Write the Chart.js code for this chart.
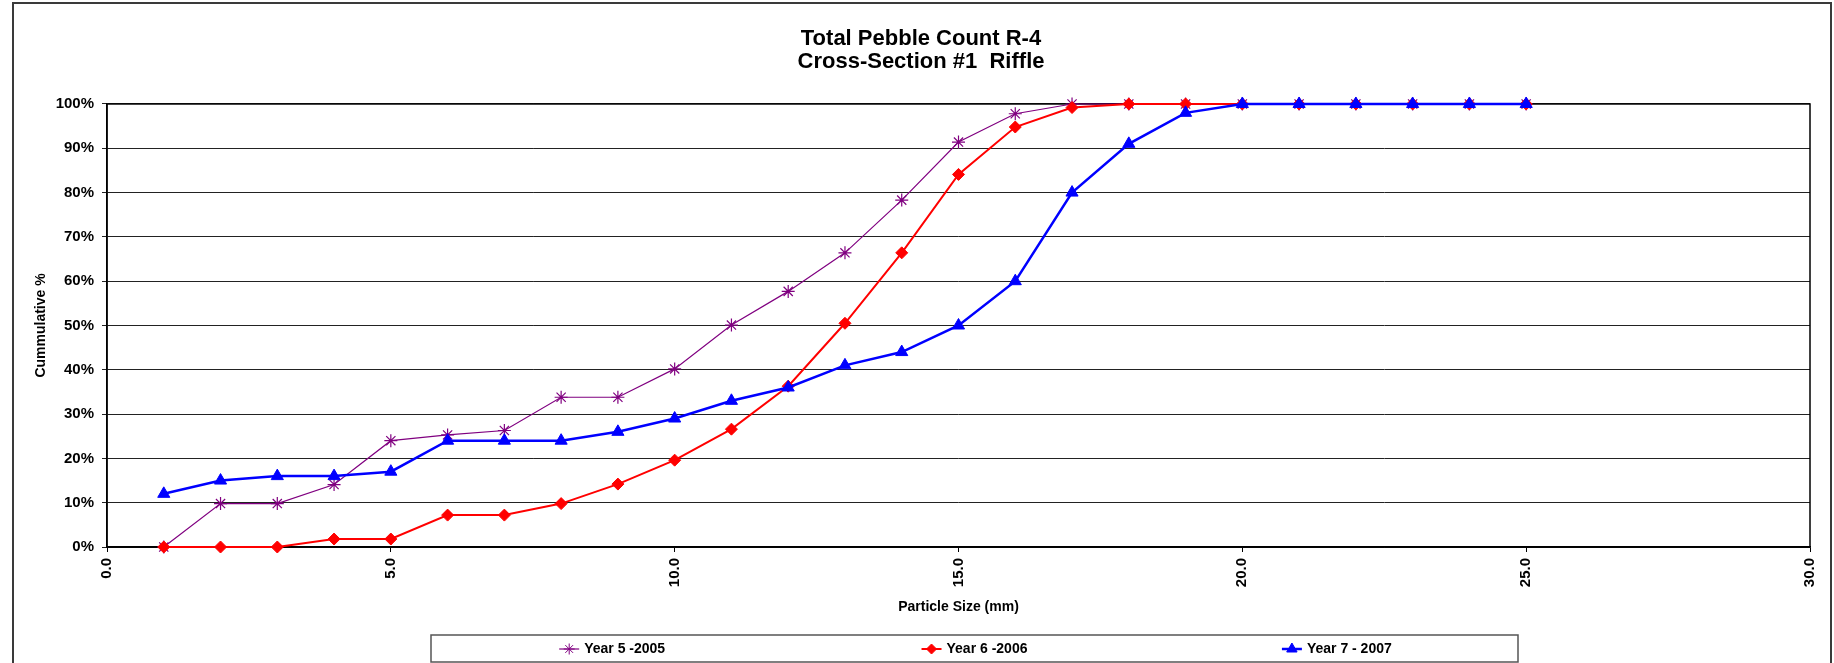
<!DOCTYPE html>
<html>
<head>
<meta charset="utf-8">
<script src="https://cdn.jsdelivr.net/npm/chart.js@4/dist/chart.umd.min.js"></script>
<style>
  body { margin: 0; background: #fff; }
  canvas { display: block; }
</style>
</head>
<body>
<canvas id="pebbleChart" width="1834" height="663"></canvas>
<script>
// particle sizes (mm) and cumulative % per year
const sizes = [1, 2, 3, 4, 5, 6, 7, 8, 9, 10, 11, 12, 13, 14, 15, 16, 17, 18, 19, 20, 21, 22, 23, 24, 25];
const year5 = [0, 9.8, 9.8, 14.1, 24.0, 25.3, 26.3, 33.8, 33.8, 40.2, 50.1, 57.7, 66.4, 78.3, 91.4, 97.8, 100, 100, 100, 100, 100, 100, 100, 100, 100];
const year6 = [0, 0, 0, 1.8, 1.8, 7.2, 7.2, 9.8, 14.2, 19.6, 26.6, 36.3, 50.5, 66.4, 84.1, 94.8, 99.2, 100, 100, 100, 100, 100, 100, 100, 100];
const year7 = [12, 15, 16, 16, 17, 24, 24, 24, 26, 29, 33, 36, 41, 44, 50, 60, 80, 91, 98, 100, 100, 100, 100, 100, 100];
const seriesNames = ['Year 5 -2005', 'Year 6 -2006', 'Year 7 - 2007'];
const xTicks = [0, 5, 10, 15, 20, 25, 30];

const toPoints = arr => arr.map((v, i) => ({x: sizes[i], y: v}));

Chart.defaults.font.family = "'Liberation Sans', Arial, sans-serif";
Chart.defaults.color = '#000';

// outer frame, plot border and the boxed legend
const framePlugin = {
    id: 'frame',
    beforeDraw(chart) {
        const ctx = chart.ctx;
        ctx.save();
        ctx.strokeStyle = '#3a3a3a';
        ctx.lineWidth = 2;
        ctx.strokeRect(13, 3, chart.width - 16, chart.height + 20);
        ctx.restore();
    },
    beforeDatasetsDraw(chart) {
        const {ctx, chartArea: a} = chart;
        ctx.save();
        ctx.strokeStyle = '#000';
        ctx.lineWidth = 1.5;
        ctx.strokeRect(a.left, a.top, a.right - a.left, a.bottom - a.top);
        ctx.restore();
    },
    afterDraw(chart) {
        const {ctx, chartArea: a} = chart;
        const boxL = a.left + 324, boxW = 1087, boxT = 635, boxH = 27;
        ctx.save();
        ctx.strokeStyle = '#555';
        ctx.lineWidth = 1.5;
        ctx.strokeRect(boxL, boxT, boxW, boxH);
        const slot = boxW / chart.data.datasets.length;
        const cy = boxT + boxH / 2 + 0.5;
        ctx.font = 'bold 14px ' + Chart.defaults.font.family;
        ctx.textBaseline = 'middle';
        ctx.textAlign = 'left';
        chart.data.datasets.forEach((ds, i) => {
            const tw = ctx.measureText(ds.label).width;
            const itemW = 25 + tw;
            const mx = boxL + slot * i + slot / 2 - itemW / 2 + 10;
            ctx.strokeStyle = ds.borderColor;
            ctx.fillStyle = ds.backgroundColor;
            ctx.lineWidth = ds.borderWidth;
            ctx.beginPath();
            ctx.moveTo(mx - 10, cy);
            ctx.lineTo(mx + 10, cy);
            ctx.stroke();
            ctx.lineWidth = 1;
            Chart.helpers.drawPoint(ctx, {
                pointStyle: ds.pointStyle,
                radius: ds.pointRadius - 1,
                rotation: 0,
                borderWidth: 1
            }, mx, cy);
            ctx.fillStyle = '#000';
            ctx.fillText(ds.label, mx + 15, cy);
        });
        ctx.restore();
    }
};

const ctx = document.getElementById('pebbleChart').getContext('2d');
new Chart(ctx, {
    type: 'line',
    data: {
        datasets: [
            {
                label: seriesNames[0],
                data: toPoints(year5),
                borderColor: '#800080',
                backgroundColor: '#800080',
                borderWidth: 1.2,
                pointStyle: 'star',
                pointRadius: 6.5,
                pointBorderWidth: 1.2,
                order: 3,
                clip: false
            },
            {
                label: seriesNames[1],
                data: toPoints(year6),
                borderColor: '#ff0000',
                backgroundColor: '#ff0000',
                borderWidth: 2,
                pointStyle: 'rectRot',
                pointRadius: 6,
                pointBorderWidth: 1,
                order: 2,
                clip: false
            },
            {
                label: seriesNames[2],
                data: toPoints(year7),
                borderColor: '#0000ff',
                backgroundColor: '#0000ff',
                borderWidth: 2.5,
                pointStyle: 'triangle',
                pointRadius: 7,
                pointBorderWidth: 1,
                order: 1,
                clip: false
            }
        ]
    },
    options: {
        responsive: false,
        animation: false,
        devicePixelRatio: 1,
        layout: { padding: { left: 30, right: 22, top: 0, bottom: 47 } },
        plugins: {
            legend: { display: false },
            tooltip: { enabled: false },
            title: {
                display: true,
                text: ['Total Pebble Count R-4', 'Cross-Section #1  Riffle'],
                font: { size: 22, weight: 'bold', lineHeight: 1.045 },
                color: '#000',
                padding: { top: 27.5, bottom: 30.5 }
            }
        },
        scales: {
            x: {
                type: 'linear',
                min: 0,
                max: 30,
                afterBuildTicks: scale => { scale.ticks = xTicks.map(v => ({value: v})); },
                afterFit: scale => { scale.height = 69; },
                ticks: {
                    minRotation: 90,
                    maxRotation: 90,
                    padding: 6,
                    font: { size: 15, weight: 'bold' },
                    callback: v => Number(v).toFixed(1)
                },
                grid: { drawOnChartArea: false, tickLength: 5, color: '#000' },
                border: { color: '#000', width: 1.5 },
                title: {
                    display: true,
                    text: 'Particle Size (mm)',
                    font: { size: 14, weight: 'bold' },
                    padding: { top: 0, bottom: 0 }
                }
            },
            y: {
                min: 0,
                max: 100,
                afterFit: scale => { scale.width = 77; },
                ticks: {
                    stepSize: 10,
                    padding: 8,
                    font: { size: 15, weight: 'bold' },
                    callback: v => v + '%'
                },
                grid: { color: '#222', tickLength: 5 },
                border: { color: '#000', width: 1.5 },
                title: {
                    display: true,
                    text: 'Cummulative %',
                    font: { size: 14, weight: 'bold' },
                    padding: { top: 3, bottom: 0 }
                }
            }
        }
    },
    plugins: [framePlugin]
});
</script>
</body>
</html>
